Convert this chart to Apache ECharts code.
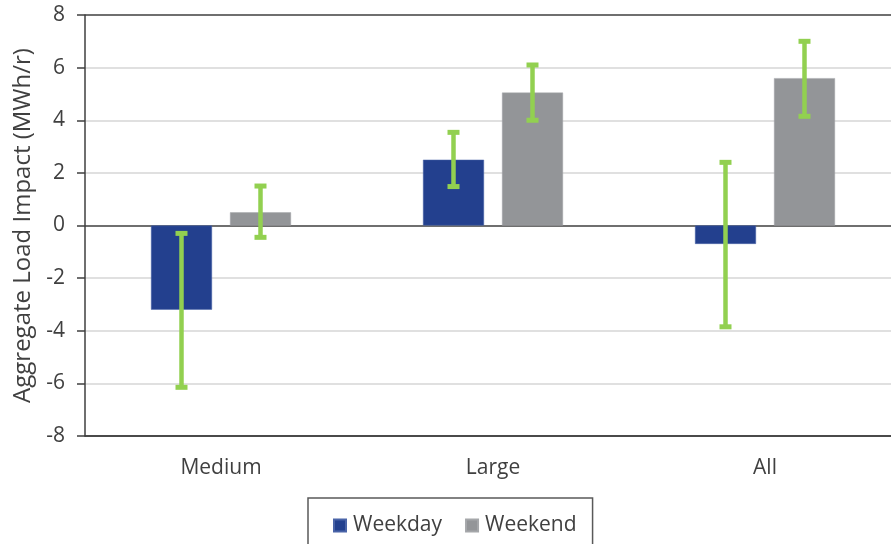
<!DOCTYPE html>
<html>
<head>
<meta charset="utf-8">
<script src="https://cdn.jsdelivr.net/npm/echarts@6/dist/echarts.min.js"></script>
<style>
  html, body { margin: 0; padding: 0; background: #fff; }
  #chart { width: 891px; height: 544px; }
</style>
</head>
<body>
<div id="chart"></div>
<script>
// Categories and series values (MWh/r)
const categories = ['Medium', 'Large', 'All'];
const weekday = [-3.2, 2.5, -0.7];
const weekend = [0.5, 5.05, 5.6];
// Confidence bounds for each bar
const weekdayLow = [-6.15, 1.48, -3.85];
const weekdayHigh = [-0.3, 3.54, 2.4];
const weekendLow = [-0.45, 4.0, 4.15];
const weekendHigh = [1.5, 6.1, 7.0];
const yTicks = [-8, -6, -4, -2, 0, 2, 4, 6, 8];

const FONT = '"Open Sans", sans-serif';
const TEXT = '#404040';
const BAR_W = 61;
const BAR_GAP = 18;

const chart = echarts.init(document.getElementById('chart'), null, { renderer: 'canvas' });

// Vertical whisker with caps, shifted to sit over its bar
function errorBar(offset) {
  return function (params, api) {
    const idx = api.value(0);
    const lo = api.coord([idx, api.value(1)]);
    const hi = api.coord([idx, api.value(2)]);
    const x = lo[0] + offset;
    const capW = 12, capH = 5;
    const style = { fill: '#92D050', stroke: null };
    return {
      type: 'group',
      children: [
        { type: 'line', shape: { x1: x, y1: hi[1], x2: x, y2: lo[1] },
          style: { stroke: '#92D050', lineWidth: 4.5 } },
        { type: 'rect', shape: { x: x - capW / 2, y: hi[1] - capH / 2, width: capW, height: capH }, style },
        { type: 'rect', shape: { x: x - capW / 2, y: lo[1] - capH / 2, width: capW, height: capH }, style }
      ]
    };
  };
}

const half = (BAR_W + BAR_GAP) / 2;
const splitColors = yTicks.map(v => (v === 0 || v === 8 || v === -8) ? '#3f3f3f' : '#d6d6d6');

chart.setOption({
  animation: false,
  textStyle: { fontFamily: FONT },
  // plot area runs a little past the right edge of the canvas
  grid: { left: 85, width: 816, top: 15, bottom: 108, containLabel: false, outerBoundsMode: 'none' },
  legend: {
    data: ['Weekday', 'Weekend'],
    left: 308,
    top: 498,
    orient: 'horizontal',
    itemWidth: 12,
    itemHeight: 12,
    itemGap: 23,
    padding: [17, 16, 40, 25],
    borderColor: '#595959',
    borderWidth: 1.5,
    icon: 'rect',
    textStyle: { fontFamily: FONT, fontSize: 21, color: TEXT, padding: [0, 0, 0, 2] }
  },
  xAxis: {
    type: 'category',
    data: categories,
    axisLine: { onZero: false, lineStyle: { color: '#3f3f3f', width: 1.5 } },
    axisTick: { show: false },
    axisLabel: { fontFamily: FONT, fontSize: 21, color: TEXT, margin: 22 }
  },
  yAxis: {
    type: 'value',
    min: -8,
    max: 8,
    interval: 2,
    name: 'Aggregate Load Impact (MWh/r)',
    nameLocation: 'middle',
    nameGap: 50,
    nameTextStyle: { fontFamily: FONT, fontSize: 24, color: TEXT },
    axisLine: { show: true, lineStyle: { color: '#3f3f3f', width: 1.5 } },
    axisTick: { show: true, inside: false, length: 8, lineStyle: { color: '#3f3f3f', width: 1.5 } },
    axisLabel: { fontFamily: FONT, fontSize: 21, color: TEXT, margin: 20 },
    splitLine: { show: true, lineStyle: { color: splitColors, width: 1.5 } }
  },
  series: [
    {
      name: 'Weekday', type: 'bar', data: weekday,
      barWidth: BAR_W, barGap: (BAR_GAP / BAR_W * 100) + '%',
      itemStyle: { color: '#23408E', borderColor: '#4a64a8', borderWidth: 0.5 }
    },
    {
      name: 'Weekend', type: 'bar', data: weekend,
      barWidth: BAR_W,
      itemStyle: { color: '#939598', borderColor: '#a5a7aa', borderWidth: 0.5 }
    },
    {
      type: 'custom', renderItem: errorBar(-half), z: 5,
      data: categories.map((c, i) => [i, weekdayLow[i], weekdayHigh[i]]),
      encode: { x: 0, y: [1, 2] }, silent: true
    },
    {
      type: 'custom', renderItem: errorBar(half), z: 5,
      data: categories.map((c, i) => [i, weekendLow[i], weekendHigh[i]]),
      encode: { x: 0, y: [1, 2] }, silent: true
    }
  ]
});
</script>
</body>
</html>
